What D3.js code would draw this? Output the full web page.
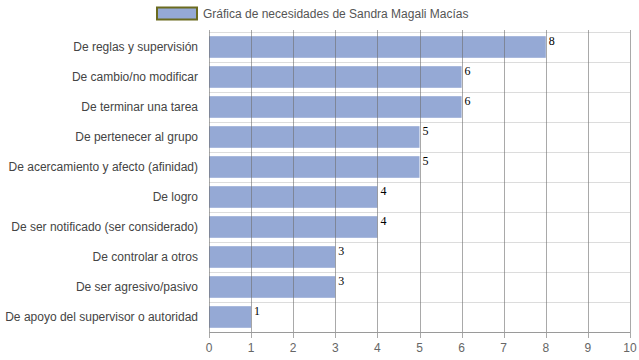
<!DOCTYPE html>
<html><head><meta charset="utf-8">
<script src="https://cdn.jsdelivr.net/npm/d3@7"></script>
<style>body{margin:0;background:#fff}svg{display:block}</style>
</head><body>
<svg id="c" width="639" height="360"></svg>
<script>
const categories = ["De reglas y supervisión","De cambio/no modificar","De terminar una tarea","De pertenecer al grupo","De acercamiento y afecto (afinidad)","De logro","De ser notificado (ser considerado)","De controlar a otros","De ser agresivo/pasivo","De apoyo del supervisor o autoridad"];
const values = [8,6,6,5,5,4,4,3,3,1];
const ticks = [0,1,2,3,4,5,6,7,8,9,10];
const seriesName = "Gráfica de necesidades de Sandra Magali Macías";

const svg = d3.select("#c");
const L = 209, R = 630, T = 32, B = 332;
const x = d3.scaleLinear().domain([0,10]).range([L,R]);
const y = d3.scaleBand().domain(categories).range([T,B]).paddingInner(0.28).paddingOuter(0.14);
const yb = d3.scaleBand().domain(categories).range([T,B]);

// horizontal grid
svg.append("g").selectAll("line").data(categories).join("line")
  .attr("x1",L).attr("x2",R)
  .attr("y1",d=>yb(d)+0.5).attr("y2",d=>yb(d)+0.5)
  .attr("stroke","#dcdcdc");

// bars
svg.append("g").selectAll("rect").data(values).join("rect")
  .attr("x",x(0)).attr("y",(d,i)=>y(categories[i]))
  .attr("width",d=>x(d)-x(0)).attr("height",y.bandwidth())
  .attr("fill","#95a9d5");

// vertical grid (over bars)
svg.append("g").selectAll("line").data(ticks).join("line")
  .attr("x1",d=>Math.round(x(d))+0.5).attr("x2",d=>Math.round(x(d))+0.5)
  .attr("y1",T-2).attr("y2",B+6)
  .attr("stroke","#707070").attr("stroke-opacity",0.6);

// value labels
svg.append("g").selectAll("text").data(values).join("text")
  .attr("x",d=>x(d)+3).attr("y",(d,i)=>yb(categories[i])+13)
  .attr("font-family","Liberation Serif, Times New Roman, serif").attr("font-size",12)
  .attr("fill","#000").text(d=>d);

// axis line
svg.append("line").attr("x1",L).attr("x2",R).attr("y1",B+0.5).attr("y2",B+0.5).attr("stroke","#9a9a9a");

// x tick labels
svg.append("g").selectAll("text").data(ticks).join("text")
  .attr("x",d=>x(d)).attr("y",352).attr("text-anchor","middle")
  .attr("font-family","Arial, Liberation Sans, sans-serif").attr("font-size",12)
  .attr("fill","#666").text(d=>d);

// category labels
svg.append("g").selectAll("text").data(categories).join("text")
  .attr("x",198).attr("y",d=>yb(d)+yb.bandwidth()/2+4).attr("text-anchor","end")
  .attr("font-family","Arial, Liberation Sans, sans-serif").attr("font-size",12)
  .attr("fill","#444").text(d=>d);

// legend
svg.append("rect").attr("x",157).attr("y",7.5).attr("width",40).attr("height",12)
  .attr("fill","#95a9d5").attr("stroke","#6b6b1f").attr("stroke-width",2);
svg.append("text").attr("x",203).attr("y",18).attr("font-family","Arial, Liberation Sans, sans-serif")
  .attr("font-size",12).attr("fill","#555").text(seriesName);
</script>
</body></html>
